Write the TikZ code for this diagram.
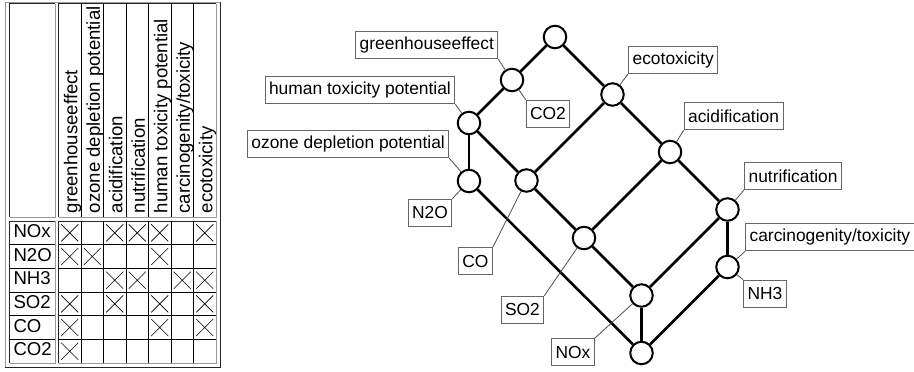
\documentclass[tikz,border=0pt]{standalone}
\usepackage{fontspec}
\setmainfont{Liberation Sans}
\usetikzlibrary{positioning}

\begin{document}
\begin{tikzpicture}
  [x=1pt, y=-1pt,
    concept/.style={
      circle, draw, fill=white, line width=2pt, minimum size=22.5pt, inner sep=0pt, on grid
    },
    lbl/.style={
      draw=black!60, line width=0.9pt, inner xsep=4pt, inner ysep=0pt,
      minimum height=27pt, font=\fontsize{17.4}{20}\selectfont
    },
    lbl line/.style={draw=black!70, line width=0.8pt},
    lattice/.style={line width=2.6pt},
    tab/.style={font=\fontsize{18.6}{22}\selectfont, inner sep=0pt},
    hi/.style={draw=black!40, line width=1pt},
    lo/.style={draw=black!85, line width=1pt},
    cell/.style={draw=black, line width=0.8pt},
    cross/.style={draw=black, line width=0.6pt},
  ]
  \useasboundingbox (0,0) rectangle (914,372);

  % Table frame and its four blocks
  \draw[hi] (5,367) -- (5,2) -- (220,2);
  \draw[lo] (220,2) -- (220,367) -- (5,367);
  \foreach \xa/\ya/\xb/\yb in {9.5/3.5/55/217, 58.5/3.5/216/217, 9.5/221/55/363, 58.5/221/216/363} {
    \draw[lo] (\xa,\yb) -- (\xa,\ya) -- (\xb,\ya);
    \draw[hi] (\xa,\yb) -- (\xb,\yb) -- (\xb,\ya);
  }
  \foreach \i in {1,...,6} {
    \draw[cell] (58.5+22.5*\i,3.5) -- (58.5+22.5*\i,217);
    \draw[cell] (58.5+22.5*\i,221) -- (58.5+22.5*\i,363);
  }
  \foreach \j in {1,...,5} {
    \draw[cell] (9.5,221+23.67*\j) -- (55,221+23.67*\j);
    \draw[cell] (58.5,221+23.67*\j) -- (216,221+23.67*\j);
  }

  % Column and row heads
  \foreach \t [count=\i] in {greenhouseeffect, ozone depletion potential, acidification,
      nutrification, human toxicity potential, carcinogenity/toxicity, ecotoxicity}
    \node[tab, rotate=90, anchor=base west] (head\i) at (54.75+22.5*\i, 213.5) {\t};
  \foreach \t [count=\j] in {NOx, N2O, NH3, SO2, CO, CO2}
    \node[tab, anchor=base west] (row\j) at (13.3, 213.83+23.67*\j) {\t};

  % Crosses (column/row)
  \foreach \c/\r in {1/1,3/1,4/1,5/1,7/1, 1/2,2/2,5/2, 3/3,4/3,6/3,7/3,
      1/4,3/4,5/4,7/4, 1/5,5/5,7/5, 1/6}
    \draw[cross] (38.75+22.5*\c, 200.67+23.67*\r) -- ++(17,17) ++(0,-17) -- ++(-17,17);

  % Lattice nodes
  \node[concept] (top) at (555,37) {};
  \node[concept] (ghe) [below left=43pt and 43pt of top] {};
  \node[concept] (htp) [below left=43pt and 43pt of ghe] {};
  \node[concept] (odp) [below=58pt of htp] {};
  \node[concept] (eco) [below right=57.5pt and 57.5pt of top] {};
  \node[concept] (acd) [below right=57.5pt and 57.5pt of eco] {};
  \node[concept] (nut) [below right=57.5pt and 57.5pt of acd] {};
  \node[concept] (cat) [below=57.5pt of nut] {};
  \node[concept] (co)  [below left=86pt and 86pt of eco] {};
  \node[concept] (so)  [below left=86pt and 86pt of acd] {};
  \node[concept] (nx)  [below left=86pt and 86pt of nut] {};
  \node[concept] (bot) [below=57.5pt of nx] {};

  % Edges between nodes
  \path[lattice]
  (top) edge (ghe)
        edge (eco)
  (ghe) edge (htp)
  (htp) edge (odp)
        edge (co)
  (eco) edge (co)
        edge (acd)
  (acd) edge (nut)
        edge (so)
  (co)  edge (so)
  (so)  edge (nx)
  (nut) edge (nx)
        edge (cat)
  (odp) edge (bot)
  (nx)  edge (bot)
  (cat) edge (bot);

  % Labels
  \node[lbl] (l-ghe) [above left=12pt and 5pt of ghe] {greenhouseeffect};
  \node[lbl] (l-co2) [below right=11pt and 5pt of ghe] {CO2};
  \node[lbl] (l-htp) [above left=10pt and 5pt of htp] {human toxicity potential};
  \node[lbl] (l-odp) [above left=14pt and 11pt of odp] {ozone depletion potential};
  \node[lbl] (l-n2o) [below left=9pt and 8pt of odp] {N2O};
  \node[lbl] (l-co)  [below left=58pt and 25pt of co] {CO};
  \node[lbl] (l-so)  [below left=49pt and 31pt of so] {SO2};
  \node[lbl] (l-nx)  [below left=34pt and 38pt of nx] {NOx};
  \node[lbl] (l-eco) [above right=12pt and 7pt of eco] {ecotoxicity};
  \node[lbl] (l-acd) [above right=13pt and 5pt of acd] {acidification};
  \node[lbl] (l-nut) [above right=11pt and 8pt of nut] {nutrification};
  \node[lbl] (l-cat) [above right=7pt and 9pt of cat] {carcinogenity/toxicity};
  \node[lbl] (l-nh3) [below right=4pt and 7pt of cat] {NH3};

  \draw[lbl line] (ghe) -- (l-ghe.south east);
  \draw[lbl line] (ghe) -- (l-co2.north west);
  \draw[lbl line] (htp) -- (l-htp.south east);
  \draw[lbl line] (odp) -- (l-odp.south east);
  \draw[lbl line] (odp) -- (l-n2o.north east);
  \draw[lbl line] (co)  -- (l-co.north east);
  \draw[lbl line] (so)  -- (l-so.north east);
  \draw[lbl line] (nx)  -- (l-nx.north east);
  \draw[lbl line] (eco) -- (l-eco.south west);
  \draw[lbl line] (acd) -- (l-acd.south west);
  \draw[lbl line] (nut) -- (l-nut.south west);
  \draw[lbl line] (cat) -- (l-cat.south west);
  \draw[lbl line] (cat) -- (l-nh3.north west);
\end{tikzpicture}
\end{document}
